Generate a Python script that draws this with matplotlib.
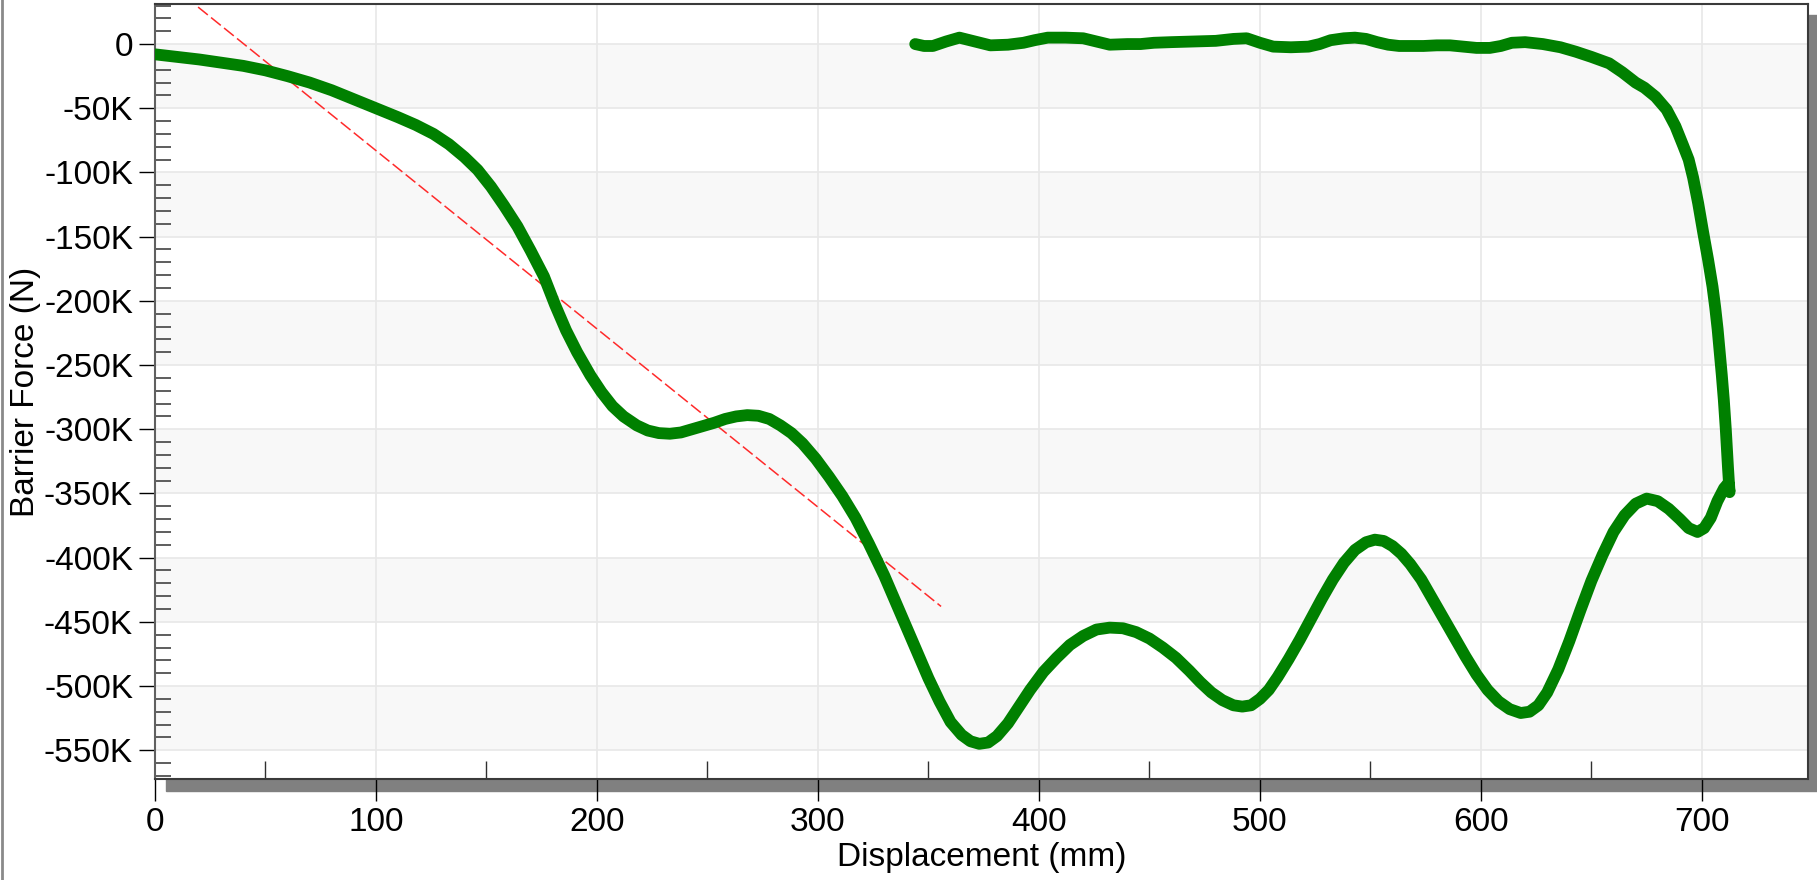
#!/usr/bin/env python3
"""Barrier force vs displacement, with a linear stiffness guide line."""
import matplotlib

matplotlib.use("Agg")
import matplotlib.pyplot as plt
from matplotlib.lines import Line2D
from matplotlib.patches import Rectangle
from matplotlib.ticker import MultipleLocator

# loading branch, displacement (mm) and force (kN)
load_disp = [0, 10, 20, 30, 40, 50, 60, 70, 80, 90, 100, 110, 118, 126, 133, 140, 146, 152,
             158, 164, 170, 176, 181, 186, 191, 197, 202, 207, 212, 218, 223, 228, 233, 238,
             243, 248, 253, 258, 263, 268, 273, 278, 283, 288, 293, 299, 305, 311, 317, 323,
             330, 337, 344, 350, 355, 360, 365, 369, 373, 377, 381, 386, 391, 396, 402, 408,
             414, 420, 426, 432, 438, 444, 450, 456, 462, 468, 473, 478, 483, 488, 492, 496,
             500, 504, 508, 513, 518, 523, 528, 533, 538, 543, 548, 552, 556, 560, 564, 568,
             573, 578, 583, 588, 593, 598, 603, 608, 613, 618, 622, 626, 630, 635, 640, 645,
             650, 655, 660, 665, 670, 675, 680, 685, 690, 694, 698, 701, 704, 707, 710, 712,
             712.5]
load_force_k = [-8, -10, -12, -14.5, -17, -20.5, -25, -30, -36, -43, -50, -57, -63, -70, -78,
                -88, -98, -111, -126, -142, -161, -181, -203, -223, -240, -258, -271, -282,
                -290, -297, -301, -303, -303.5, -302.5, -300, -297.5, -295, -292, -290, -289,
                -289.5, -292, -297, -303, -311, -323, -337, -352, -369, -389, -414, -442, -470,
                -494, -512, -528, -538, -543, -545, -544, -539, -529, -516, -503, -489, -478,
                -468, -461, -456, -454.5, -455, -458, -463, -470, -478, -488, -497, -505, -511,
                -515, -516, -515, -510, -503, -493, -479, -464, -448, -432, -417, -404, -394,
                -388, -386, -387, -391, -397, -405, -417, -432, -447, -462, -477, -491, -503,
                -512, -518, -521, -520, -515, -505, -487, -465, -441, -418, -398, -380, -367,
                -358, -354, -356, -362, -370, -377, -380, -377, -369, -356, -346, -342, -349]

# unloading branch, back towards zero force
unload_disp = [712.5, 711.8, 710.8, 709.9, 709, 708.1, 707.1, 706, 704.8, 702.8, 700.6, 698.3,
               696, 694, 691.5, 688, 684, 679, 674, 670, 664, 658, 650, 643, 636, 628, 620,
               614, 609, 604, 598, 592, 586, 580, 574, 568, 563, 558, 553, 548, 543, 538,
               532, 527, 522, 514, 506, 500, 494, 488, 480, 470, 460, 452, 446, 440, 432,
               426, 420, 412, 404, 398, 393, 386, 378, 371, 364, 358, 352, 348, 344]
unload_force_k = [-349, -330, -300, -277, -258, -241, -222, -205, -189, -168, -147, -124, -104,
                  -90, -79, -64, -51, -41, -34, -30, -22, -15, -10, -6, -2.5, 0, 1.5, 1, -1.5,
                  -3, -3, -2, -1, -1, -1.5, -1.5, -1.5, -0.5, 1.5, 4, 5, 4.5, 3, 0, -2, -2.5,
                  -2, 1, 4.5, 4, 2.5, 2, 1.5, 1, 0, 0, -0.5, 2, 4.5, 5, 5, 3, 1, -0.5, -1, 2, 5,
                  2, -1.5, -1.5, 0]

# dashed linear guide
fit_disp = [19.5, 355.7]
fit_force_k = [28.8, -438.0]

x_ticks = [0, 100, 200, 300, 400, 500, 600, 700]
y_ticks_k = [0, -50, -100, -150, -200, -250, -300, -350, -400, -450, -500, -550]
y_tick_labels = ["0", "-50K", "-100K", "-150K", "-200K", "-250K", "-300K", "-350K",
                 "-400K", "-450K", "-500K", "-550K"]

W, H = 1817, 880


def main() -> int:
    plt.rcParams["font.family"] = ["Liberation Sans", "DejaVu Sans"]
    plt.rcParams["lines.scale_dashes"] = False
    fig = plt.figure(figsize=(W / 100, H / 100), dpi=100)
    ax = fig.add_axes([155 / W, 1 - 779 / H, (1808 - 155) / W, (779 - 4) / H])

    # drop shadow behind the plot box
    fig.add_artist(Rectangle((166 / W, 1 - 791 / H), 1.0, (791 - 15) / H,
                             transform=fig.transFigure, color="#808080", zorder=-1))
    fig.add_artist(Line2D([1.5 / W, 1.5 / W], [0, 1], transform=fig.transFigure,
                          color="#8a8a8a", lw=2))

    ax.set_facecolor("white")
    ax.set_axisbelow(True)
    for i, top in enumerate(y_ticks_k[:-1]):
        if i % 2 == 0:
            ax.axhspan(top * 1000, y_ticks_k[i + 1] * 1000, color="#f8f8f8", lw=0, zorder=0.2)
    ax.grid(True, which="major", color="#e8e8e8", lw=1.2)

    ax.plot(fit_disp, [v * 1000 for v in fit_force_k], color="#ff2a2a", lw=1.1,
            dashes=(9, 3), zorder=2)
    disp = load_disp + unload_disp[1:]
    force = [v * 1000 for v in load_force_k + unload_force_k[1:]]
    ax.plot(disp, force, color="#008000", lw=8.5, solid_joinstyle="round",
            solid_capstyle="round", zorder=3)

    ax.set_xlim(0, 748)
    ax.set_ylim(-572400, 31200)
    ax.set_xticks(x_ticks, labels=[str(v) for v in x_ticks])
    ax.set_yticks([v * 1000 for v in y_ticks_k], labels=y_tick_labels)
    ax.xaxis.set_minor_locator(MultipleLocator(50))
    ax.yaxis.set_minor_locator(MultipleLocator(10000))
    ax.tick_params(axis="both", which="major", labelsize=24, colors="black")
    ax.tick_params(axis="y", which="major", direction="out", length=11.5, width=1, pad=4.3)
    ax.tick_params(axis="y", which="minor", direction="in", length=11.5, width=1.3,
                   color="#505050")
    ax.tick_params(axis="x", which="major", direction="out", length=16, width=1, pad=4.5)
    ax.tick_params(axis="x", which="minor", direction="in", length=13, width=1,
                   color="#303030")
    for side in ("top", "right", "bottom"):
        ax.spines[side].set_color("#3a3a3a")
        ax.spines[side].set_linewidth(1.5)
    ax.spines["left"].set_color("#606060")
    ax.spines["left"].set_linewidth(1.5)

    ax.set_xlabel("Displacement (mm)", fontsize=24)
    ax.set_ylabel("Barrier Force (N)", fontsize=24)
    ax.xaxis.set_label_coords(0.5, -0.081)
    ax.yaxis.set_label_coords(-0.069, 0.5)

    fig.savefig("out.png", dpi=100)
    plt.close(fig)
    return 0


if __name__ == "__main__":
    raise SystemExit(main())
